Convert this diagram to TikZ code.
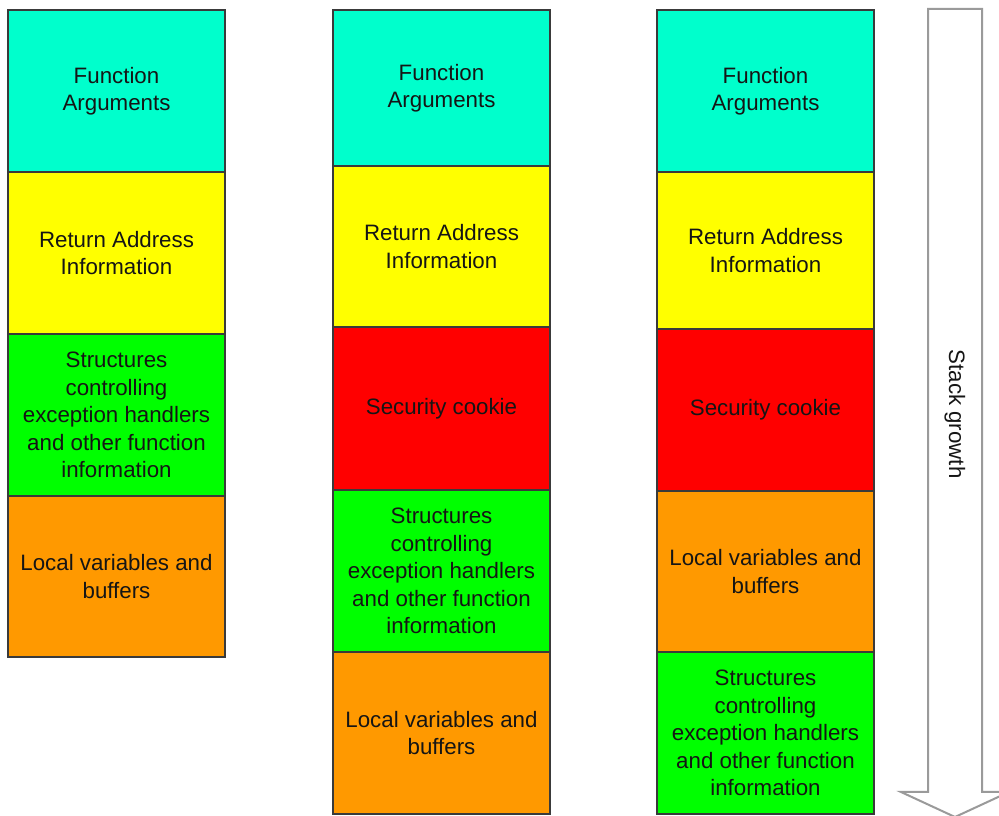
\documentclass[tikz,border=0pt]{standalone}
\usepackage{fontspec}
\setmainfont{Liberation Sans}
\definecolor{cargs}{HTML}{00FFCC}
\definecolor{cret}{HTML}{FFFF00}
\definecolor{cstruct}{HTML}{00FF00}
\definecolor{ccookie}{HTML}{FF0000}
\definecolor{clocal}{HTML}{FF9900}
\definecolor{cedge}{HTML}{3A3A3A}
\definecolor{carrow}{HTML}{9A9A9A}
\definecolor{ctext}{HTML}{151515}
\tikzset{
  blk/.style={draw=cedge, line width=1.1pt, inner sep=0pt, outer sep=0pt,
    minimum width=217pt, align=center, text=ctext,
    font=\fontsize{22.3}{27.5}\selectfont},
}
\begin{document}
\begin{tikzpicture}[x=1pt,y=1pt]
\useasboundingbox (0,0) rectangle (999,816);
\clip (0,0) rectangle (999,816);
% column 1 (x 8..225)
\node[blk, fill=cargs, minimum height=162pt] (a1) at (116.5,725) {Function\\Arguments};
\node[blk, fill=cret, minimum height=162pt] (b1) at (116.5,563) {Return Address\\Information};
\node[blk, fill=cstruct, minimum height=162pt] (c1) at (116.5,401) {Structures\\controlling\\exception handlers\\and other function\\information};
\node[blk, fill=clocal, minimum height=161pt] (d1) at (116.5,239.5) {Local variables and\\buffers};
% column 2 (x 333..550)
\node[blk, fill=cargs, minimum height=156pt] (a2) at (441.5,728) {Function\\Arguments};
\node[blk, fill=cret, minimum height=161pt] (b2) at (441.5,569.5) {Return Address\\Information};
\node[blk, fill=ccookie, minimum height=163pt] (c2) at (441.5,407.5) {Security cookie};
\node[blk, fill=cstruct, minimum height=162pt] (d2) at (441.5,245) {Structures\\controlling\\exception handlers\\and other function\\information};
\node[blk, fill=clocal, minimum height=162pt] (e2) at (441.5,83) {Local variables and\\buffers};
% column 3 (x 657..873)
\node[blk, fill=cargs, minimum height=162pt] (a3) at (765.5,725) {Function\\Arguments};
\node[blk, fill=cret, minimum height=157pt] (b3) at (765.5,565.5) {Return Address\\Information};
\node[blk, fill=ccookie, minimum height=162pt] (c3) at (765.5,406) {Security cookie};
\node[blk, fill=clocal, minimum height=161pt] (d3) at (765.5,244.5) {Local variables and\\buffers};
\node[blk, fill=cstruct, minimum height=162pt] (e3) at (765.5,83) {Structures\\controlling\\exception handlers\\and other function\\information};
% stack growth arrow
\coordinate (tl) at (928,807);
\coordinate (tr) at (982,807);
\coordinate (tip) at (955,-1);
\draw[carrow, line width=2pt, fill=white] (tl) -- (928,24) -- (901,24) -- (tip) -- (1009,24) -- (982,24) -- (tr) -- cycle;
\node[rotate=-90, text=ctext, font=\fontsize{22.3}{27.5}\selectfont] (sg) at (955,402) {Stack growth};
\end{tikzpicture}
\end{document}
